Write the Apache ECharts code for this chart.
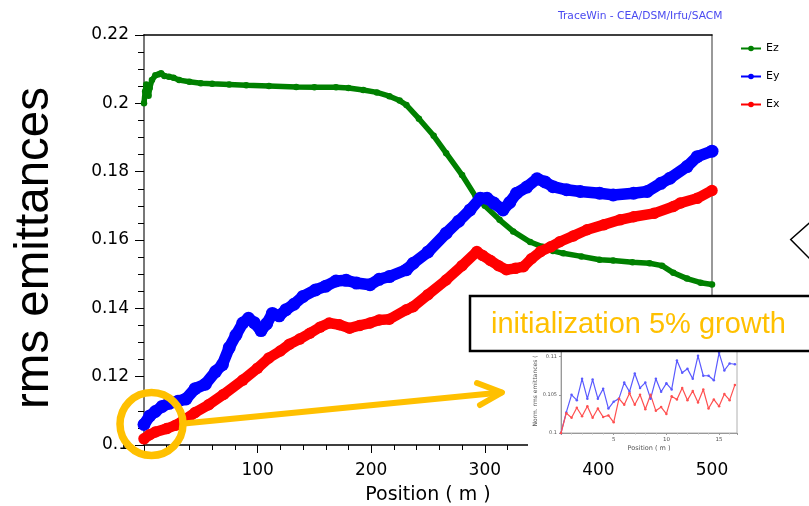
<!DOCTYPE html>
<html><head><meta charset="utf-8">
<script src="https://cdn.jsdelivr.net/npm/echarts@6/dist/echarts.min.js"></script>
<style>html,body{margin:0;padding:0;background:#fff}#c{width:809px;height:506px}</style>
</head><body><div id="c"></div>
<script>
// ---- main chart data (position in m, rms emittance) ----
const ezPos = [0,1,2,3,4,5,7,10,13,15,18,22,26,31,40,50,60,75,90,110,134,150,169,180,193,205,216,225,231,242,255,266,280,292,300,313,325,340,351,360,369,385,401,413,430,445,456,466,478,490,500];
const ezVal = [0.2000,0.2035,0.2055,0.2045,0.2022,0.2045,0.2068,0.2082,0.2085,0.2088,0.2080,0.2078,0.2075,0.2068,0.2063,0.2059,0.2057,0.2055,0.2053,0.2051,0.2048,0.2047,0.2047,0.2045,0.2039,0.2032,0.2021,0.2008,0.1995,0.1955,0.1905,0.1854,0.1790,0.1727,0.1700,0.1659,0.1625,0.1594,0.1580,0.1568,0.1561,0.1552,0.1542,0.1540,0.1535,0.1532,0.1525,0.1504,0.1487,0.1475,0.1470];
const eyPos = [0,5,10,16,22,30,37,45,54,63,69,75,81,87,92,97,103,108,113,119,125,132,140,151,160,169,178,187,199,207,216,231,237,250,266,277,287,296,302,308,316,322,328,337,346,353,360,372,384,401,413,431,443,455,463,478,487,500];
const eyVal = [0.1060,0.1085,0.1098,0.1113,0.1122,0.1128,0.1135,0.1165,0.1178,0.1215,0.1235,0.1285,0.1322,0.1357,0.1371,0.1358,0.1335,0.1355,0.1385,0.1378,0.1396,0.1412,0.1435,0.1454,0.1465,0.1480,0.1482,0.1474,0.1469,0.1485,0.1493,0.1513,0.1532,0.1565,0.1620,0.1655,0.1688,0.1722,0.1722,0.1708,0.1688,0.1710,0.1737,0.1755,0.1779,0.1770,0.1756,0.1747,0.1742,0.1737,0.1732,0.1737,0.1742,0.1766,0.1781,0.1815,0.1844,0.1860];
const exPos = [0,5,10,20,28,34,45,57,70,87,100,110,120,128,137,146,155,163,172,181,190,199,207,216,231,237,250,266,280,293,298,305,312,319,327,334,341,349,358,366,378,390,405,419,431,449,466,472,487,500];
const exVal = [0.1018,0.1030,0.1038,0.1048,0.1058,0.1070,0.1095,0.1118,0.1148,0.1190,0.1225,0.1255,0.1275,0.1295,0.1310,0.1327,0.1345,0.1357,0.1352,0.1342,0.1350,0.1357,0.1366,0.1368,0.1396,0.1405,0.1440,0.1483,0.1525,0.1566,0.1555,0.1540,0.1525,0.1513,0.1517,0.1522,0.1545,0.1566,0.1580,0.1595,0.1612,0.1630,0.1645,0.1659,0.1668,0.1678,0.1698,0.1708,0.1722,0.1745];
// ---- inset chart data ----
const insetPos = [0,0.5,1,1.5,2,2.5,3,3.5,4,4.5,5,5.5,6,6.5,7,7.5,8,8.5,9,9.5,10,10.5,11,11.5,12,12.5,13,13.5,14,14.5,15,15.5,16,16.5];
const insetEy = [0.1000,0.1027,0.1050,0.1043,0.1071,0.1045,0.1070,0.1045,0.1058,0.1032,0.1041,0.1045,0.1066,0.1054,0.1078,0.1059,0.1066,0.1045,0.1071,0.1054,0.1065,0.1057,0.1095,0.1079,0.1084,0.1071,0.1101,0.1075,0.1075,0.1069,0.1105,0.1082,0.1091,0.1090];
const insetEx = [0.1000,0.1026,0.1020,0.1033,0.1022,0.1035,0.1020,0.1032,0.1021,0.1023,0.1014,0.1045,0.1037,0.1052,0.1037,0.1050,0.1031,0.1050,0.1029,0.1034,0.1025,0.1048,0.1044,0.1059,0.1043,0.1055,0.1040,0.1057,0.1032,0.1044,0.1035,0.1051,0.1043,0.1063];
const seriesNames = ['Ez','Ey','Ex'];
const titleText = 'TraceWin - CEA/DSM/Irfu/SACM';
const yTitle = 'rms emittances';
const xTitle = 'Position ( m )';
const noteText = 'initialization 5% growth';
const insetXTitle = 'Position ( m )';
const insetYTitle = 'Norm. rms emittances (';

const zip = (a, b) => a.map((v, i) => [v, b[i]]);
const FONT = 'DejaVu Sans';
const ORANGE = '#FFC000';

const chart = echarts.init(document.getElementById('c'), null, {renderer: 'canvas'});
chart.setOption({
  animation: false,
  title: {text: titleText, left: 553, top: 6, textStyle: {fontSize: 10.7, fontWeight: 'normal', color: '#4a4af0', fontFamily: FONT}},
  legend: {
    data: seriesNames, orient: 'vertical', left: 735, top: 38,
    itemWidth: 20, itemHeight: 7, itemGap: 17,
    lineStyle: {width: 2},
    textStyle: {fontSize: 11, color: '#000', fontFamily: FONT}
  },
  grid: [
    {left: 144, top: 35, width: 568, height: 410, outerBoundsMode: 'none', containLabel: false},
    {left: 561, top: 349, width: 176, height: 84, outerBoundsMode: 'none', containLabel: false, show: true, borderColor: '#b0b0b0', borderWidth: 1, backgroundColor: 'transparent', z: 6}
  ],
  xAxis: [
    {type: 'value', gridIndex: 0, min: 0, max: 500, interval: 100,
      axisLine: {onZero: false, lineStyle: {color: '#000', width: 1.5}},
      axisTick: {length: 8, lineStyle: {color: '#000'}},
      minorTick: {show: true, splitNumber: 5, length: 5, lineStyle: {color: '#000'}},
      splitLine: {show: false}, minorSplitLine: {show: false},
      axisLabel: {fontSize: 17, fontFamily: FONT, color: '#000', margin: 17, formatter: v => v === 0 ? '' : String(v)},
      name: xTitle, nameLocation: 'middle', nameGap: 41,
      nameTextStyle: {fontSize: 19, fontFamily: FONT, color: '#000'}},
    {type: 'value', gridIndex: 0, position: 'top', min: 0, max: 500,
      axisLine: {onZero: false, lineStyle: {color: '#000', width: 1.5}},
      axisTick: {show: false}, axisLabel: {show: false}, splitLine: {show: false}},
    {type: 'value', gridIndex: 1, min: 0, max: 16.7, interval: 5, z: 7,
      axisLine: {onZero: false, lineStyle: {color: '#999', width: 1}},
      axisTick: {length: 2, lineStyle: {color: '#999'}},
      minorTick: {show: true, splitNumber: 5, length: 1.5, lineStyle: {color: '#bbb'}},
      splitLine: {show: false},
      axisLabel: {fontSize: 5.5, color: '#555', fontFamily: FONT, margin: 4, showMaxLabel: false, formatter: v => (v === 0 || v % 5 !== 0) ? '' : String(v)},
      name: insetXTitle, nameLocation: 'middle', nameGap: 12,
      nameTextStyle: {fontSize: 6.5, color: '#555', fontFamily: FONT}}
  ],
  yAxis: [
    {type: 'value', gridIndex: 0, min: 0.1, max: 0.22, interval: 0.02,
      axisLine: {onZero: false, lineStyle: {color: '#777', width: 2}},
      axisTick: {length: 9, lineStyle: {color: '#000'}},
      minorTick: {show: true, splitNumber: 4, length: 6, lineStyle: {color: '#000'}},
      splitLine: {show: false}, minorSplitLine: {show: false},
      axisLabel: {fontSize: 17, fontFamily: FONT, color: '#000', margin: 15}},
    {type: 'value', gridIndex: 0, position: 'right', min: 0.1, max: 0.22,
      axisLine: {onZero: false, lineStyle: {color: '#777', width: 1.5}},
      axisTick: {show: false}, axisLabel: {show: false}, splitLine: {show: false}},
    {type: 'value', gridIndex: 1, min: 0.1, max: 0.111, interval: 0.005, z: 7,
      axisLine: {onZero: false, lineStyle: {color: '#999', width: 1}},
      axisTick: {length: 2, lineStyle: {color: '#999'}},
      splitLine: {show: false},
      axisLabel: {fontSize: 5, color: '#555', fontFamily: FONT, margin: 4, showMaxLabel: false},
      name: insetYTitle, nameLocation: 'middle', nameGap: 22,
      nameTextStyle: {fontSize: 6, color: '#555', fontFamily: FONT}}
  ],
  series: [
    {name: 'Ez', type: 'line', xAxisIndex: 0, yAxisIndex: 0, data: zip(ezPos, ezVal),
      symbol: 'circle', symbolSize: 6.5, showSymbol: true, color: '#008000',
      lineStyle: {width: 5.5, color: '#008000'}, itemStyle: {color: '#008000'}, z: 2},
    {name: 'Ey', type: 'line', xAxisIndex: 0, yAxisIndex: 0, data: zip(eyPos, eyVal),
      symbol: 'circle', symbolSize: 13, showSymbol: true, color: '#0000ff',
      lineStyle: {width: 11.5, color: '#0000ff'}, itemStyle: {color: '#0000ff'}, z: 3},
    {name: 'Ex', type: 'line', xAxisIndex: 0, yAxisIndex: 0, data: zip(exPos, exVal),
      symbol: 'circle', symbolSize: 11.5, showSymbol: true, color: '#ff0000',
      lineStyle: {width: 10.5, color: '#ff0000'}, itemStyle: {color: '#ff0000'}, z: 4},
    {name: 'inset Ey', type: 'line', xAxisIndex: 2, yAxisIndex: 2, data: zip(insetPos, insetEy),
      symbol: 'circle', symbolSize: 2.5, color: '#5a5aff',
      lineStyle: {width: 1.2, color: '#5a5aff'}, itemStyle: {color: '#5a5aff'}, z: 8},
    {name: 'inset Ex', type: 'line', xAxisIndex: 2, yAxisIndex: 2, data: zip(insetPos, insetEx),
      symbol: 'circle', symbolSize: 2.5, color: '#ff5050',
      lineStyle: {width: 1.2, color: '#ff5050'}, itemStyle: {color: '#ff5050'}, z: 8}
  ],
  graphic: [
    {type: 'text', x: 35, y: 248, rotation: Math.PI / 2, z: 5,
      style: {text: yTitle, fontSize: 47.5, fontFamily: 'Liberation Sans', fill: '#000', align: 'center', verticalAlign: 'middle'}},
    {type: 'rect', z: 5, shape: {x: 528, y: 351, width: 214, height: 102}, style: {fill: '#fff'}},
    {type: 'rect', z: 9, shape: {x: 470, y: 296, width: 360, height: 55}, style: {fill: '#fff', stroke: '#000', lineWidth: 2.5}},
    {type: 'text', z: 10, x: 491, y: 325, style: {text: noteText, fontSize: 29, fontFamily: 'Liberation Sans', fill: ORANGE, align: 'left', verticalAlign: 'middle'}},
    {type: 'circle', z: 12, shape: {cx: 151.5, cy: 424, r: 31.5}, style: {fill: 'none', stroke: ORANGE, lineWidth: 7.5}},
    {type: 'line', z: 12, shape: {x1: 184, y1: 423.5, x2: 501, y2: 392.5}, style: {stroke: ORANGE, lineWidth: 6, lineCap: 'round'}},
    {type: 'polyline', z: 12, shape: {points: [[477, 383], [502, 392.5], [480, 405]]}, style: {fill: 'none', stroke: ORANGE, lineWidth: 6, lineCap: 'round', lineJoin: 'round'}},
    {type: 'polyline', z: 12, shape: {points: [[811, 221.5], [790.7, 239.5], [811, 260]]}, style: {fill: 'none', stroke: '#000', lineWidth: 1.5}}
  ]
});
</script>
</body></html>
